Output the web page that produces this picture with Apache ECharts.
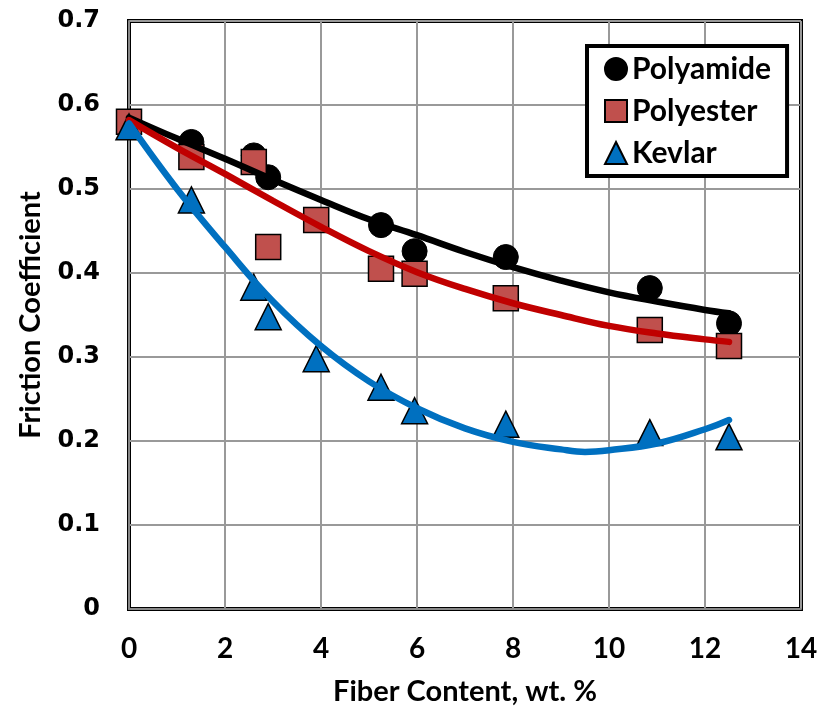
<!DOCTYPE html>
<html>
<head>
<meta charset="utf-8">
<script src="https://cdn.jsdelivr.net/npm/echarts@6/dist/echarts.min.js"></script>
<style>html,body{margin:0;padding:0;background:#fff}#c{width:819px;height:706px}</style>
</head>
<body>
<div id="c"></div>
<script>
// ---- data ----
const seriesNames = ['Polyamide', 'Polyester', 'Kevlar'];
const xPolyamide = [0, 1.3, 2.6, 2.9, 5.25, 5.95, 7.85, 10.85, 12.5];
const yPolyamide = [0.578, 0.556, 0.540, 0.514, 0.457, 0.426, 0.419, 0.382, 0.340];
const xPolyester = [0, 1.3, 2.6, 2.9, 3.9, 5.25, 5.95, 7.85, 10.85, 12.5];
const yPolyester = [0.580, 0.538, 0.532, 0.431, 0.463, 0.405, 0.399, 0.370, 0.332, 0.313];
const xKevlar = [0, 1.3, 2.6, 2.9, 3.9, 5.25, 5.95, 7.85, 10.85, 12.5];
const yKevlar = [0.574, 0.487, 0.383, 0.348, 0.298, 0.264, 0.236, 0.220, 0.210, 0.205];
// trend curves
const xFit = [0, 1, 2, 3, 4, 5, 6, 7, 8, 9, 10, 11, 12, 12.5];
const yFitPolyamide = [0.585, 0.560, 0.536, 0.511, 0.487, 0.464, 0.445, 0.425, 0.407, 0.391, 0.377, 0.366, 0.356, 0.352];
const yFitPolyester = [0.582, 0.549, 0.518, 0.486, 0.455, 0.426, 0.401, 0.381, 0.364, 0.350, 0.337, 0.328, 0.321, 0.318];
const xFitKevlar = [0, 1, 2, 3, 4, 5, 6, 7, 8, 9, 9.5, 10, 11, 12, 12.5];
const yFitKevlar = [0.578, 0.500, 0.431, 0.366, 0.313, 0.271, 0.239, 0.215, 0.199, 0.190, 0.187, 0.189, 0.197, 0.214, 0.225];
const yTickLabels = ['0', '0.1', '0.2', '0.3', '0.4', '0.5', '0.6', '0.7'];
const xTickLabels = ['0', '2', '4', '6', '8', '10', '12', '14'];

const pairs = (xs, ys) => xs.map((x, i) => [x, ys[i]]);
const LAT = 'Lato, "Open Sans", sans-serif';

const chart = echarts.init(document.getElementById('c'), null, {renderer: 'canvas'});
chart.setOption({
  animation: false,
  backgroundColor: '#fff',
  grid: {left: 129, right: 18, top: 21, bottom: 97, show: true, borderColor: '#000', borderWidth: 4,
    backgroundColor: 'transparent', outerBoundsMode: 'none', containLabel: false},
  xAxis: {
    type: 'value', min: 0, max: 14, interval: 2,
    name: 'Fiber Content, wt. %', nameLocation: 'middle', nameGap: 68,
    nameTextStyle: {fontFamily: LAT, fontWeight: 'bold', fontSize: 29, color: '#000'},
    axisLine: {show: true, onZero: false, lineStyle: {color: '#888', width: 2}},
    axisTick: {show: false},
    axisLabel: {margin: 26, fontFamily: LAT, fontWeight: 'bold', fontSize: 28, color: '#000',
      formatter: v => xTickLabels[Math.round(v / 2)]},
    splitLine: {show: true, lineStyle: {color: '#999', width: 2}}
  },
  yAxis: {
    type: 'value', min: 0, max: 0.7, interval: 0.1,
    name: 'Friction Coefficient', nameLocation: 'middle', nameGap: 84,
    nameTextStyle: {fontFamily: LAT, fontWeight: 'bold', fontSize: 29, color: '#000'},
    axisLine: {show: true, onZero: false, lineStyle: {color: '#888', width: 2}},
    axisTick: {show: false},
    axisLabel: {margin: 29, fontFamily: '"DejaVu Sans", sans-serif', fontWeight: 'bold', fontSize: 24, color: '#000',
      formatter: v => yTickLabels[Math.round(v * 10)]},
    splitLine: {show: true, lineStyle: {color: '#999', width: 2}}
  },
  legend: {
    data: seriesNames,
    orient: 'vertical', left: 587, top: 46,
    padding: [8, 16, 8, 17],
    itemGap: 12, itemWidth: 22, itemHeight: 22, itemOpacity: 1,
    borderColor: '#000', borderWidth: 4, backgroundColor: '#fff',
    textStyle: {fontFamily: LAT, fontWeight: 'bold', fontSize: 30, color: '#000'}
  },
  series: [
    {name: 'Polyamide', type: 'scatter', symbol: 'circle', symbolSize: 25, z: 3,
      itemStyle: {color: '#000', borderColor: '#000', borderWidth: 1, opacity: 1}, data: pairs(xPolyamide, yPolyamide)},
    {name: 'Polyester', type: 'scatter', symbol: 'rect', symbolSize: 25, z: 3,
      itemStyle: {color: '#C0504D', borderColor: '#000', borderWidth: 1.5, opacity: 1}, data: pairs(xPolyester, yPolyester)},
    {name: 'Kevlar', type: 'scatter', symbol: 'triangle', symbolSize: 26, z: 3,
      itemStyle: {color: '#0070C0', borderColor: '#000', borderWidth: 1.5, opacity: 1}, data: pairs(xKevlar, yKevlar)},
    {name: 'Polyamide fit', type: 'line', smooth: 0.4, showSymbol: false, z: 4,
      lineStyle: {color: '#000', width: 6.5, cap: 'round'}, data: pairs(xFit, yFitPolyamide)},
    {name: 'Polyester fit', type: 'line', smooth: 0.4, showSymbol: false, z: 4,
      lineStyle: {color: '#C00000', width: 6.5, cap: 'round'}, data: pairs(xFit, yFitPolyester)},
    {name: 'Kevlar fit', type: 'line', smooth: 0.4, showSymbol: false, z: 4,
      lineStyle: {color: '#0070C0', width: 6.5, cap: 'round'}, data: pairs(xFitKevlar, yFitKevlar)}
  ]
});
</script>
</body>
</html>
